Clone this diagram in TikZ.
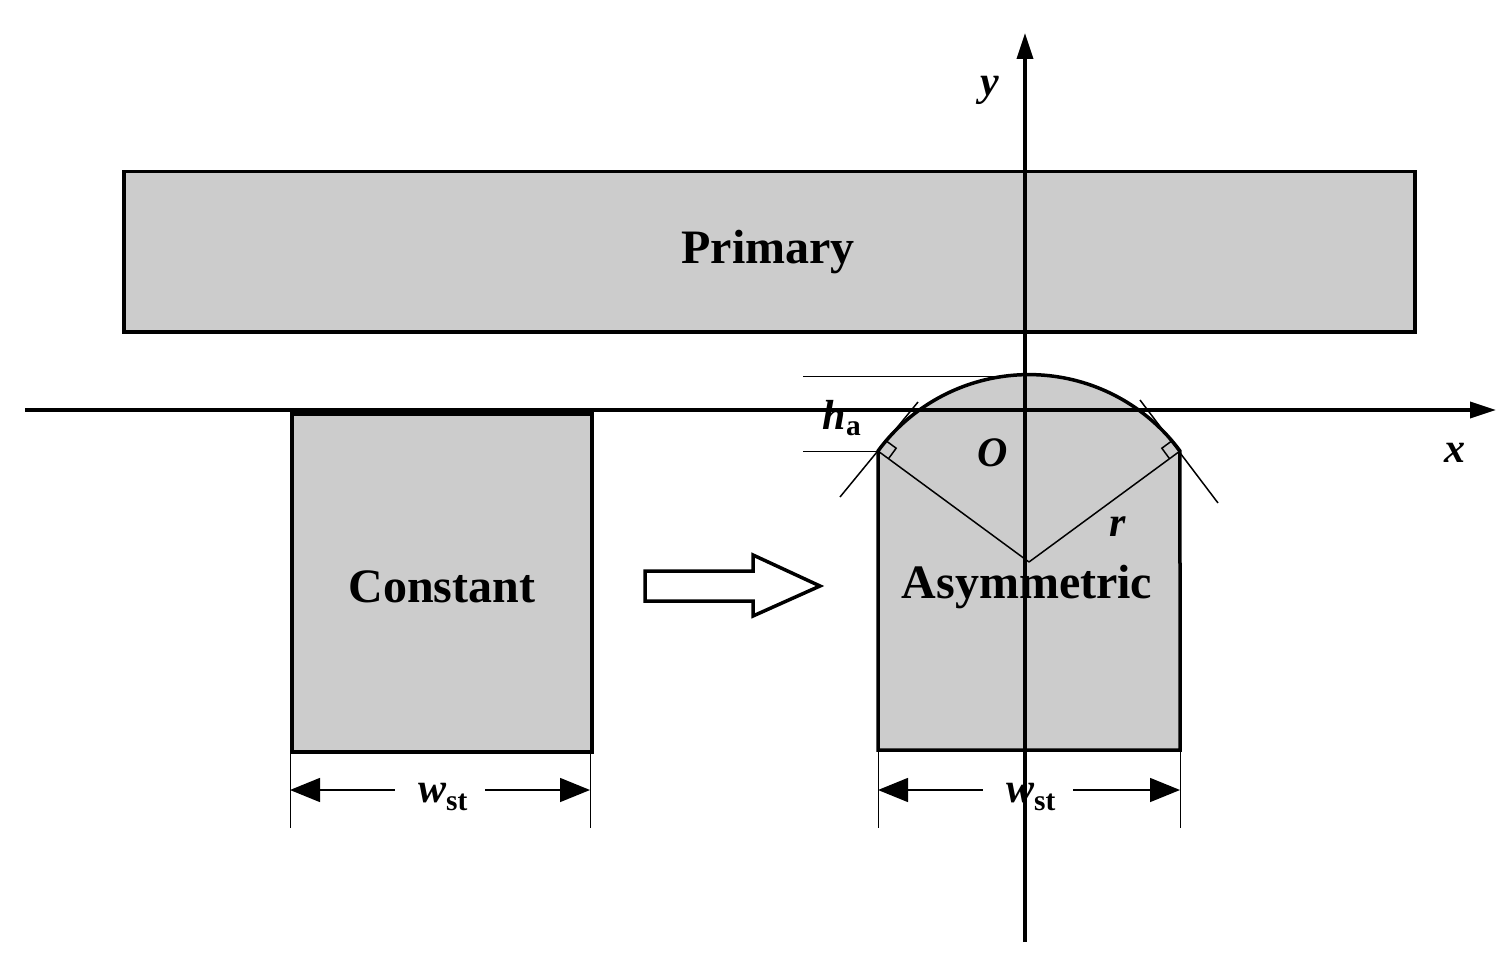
\documentclass[tikz,border=0pt]{standalone}
\usepackage{fontspec}
\setmainfont{Liberation Serif}
\usetikzlibrary{arrows.meta}
\begin{document}
\begin{tikzpicture}[x=1pt,y=-1pt,
  part/.style={fill=black!20,draw=black,line width=3.5pt},
  thin/.style={draw=black,line width=1.5pt},
  axis/.style={line width=3.5pt,-{Triangle[length=26pt,width=16pt]}},
  dimarr/.style={line width=1.5pt,{Triangle[length=30pt,width=24pt]}-},
  lbl/.style={font=\bfseries\fontsize{48}{48}\selectfont},
  var/.style={font=\bfseries\itshape\fontsize{42}{42}\selectfont}]
\useasboundingbox (0,0) rectangle (1504,968);
\node[part,minimum width=1291pt,minimum height=160pt,anchor=north west] (prim) at (122,170) {};
\node[lbl] (primt) at (768,252) {Primary};
\node[part,minimum width=300pt,minimum height=338pt,anchor=north west] (const) at (290,412) {};
\node[lbl] (constt) at (442,587) {Constant};
% asymmetric tooth
\coordinate (c) at (1029,562);
\coordinate (L) at (878,451);
\coordinate (R) at (1180,451);
\draw[part] (878,750) -- (L) arc[start angle=-143.68,end angle=-36.32,radius=187.4] -- (1180,750) -- cycle;
\node[lbl] (asymt) at (1027,587) {Asymmetric};
\draw[thin] (c) -- (L); \draw[thin] (c) -- (R);
\draw[thin] (840,497) -- (918,402);
\draw[thin] (1140,400) -- (1218,503);
\draw[thin] (L) ++(36.3:13) -- ++(-53.7:13) -- ++(216.3:13);
\draw[thin] (R) ++(143.7:13) -- ++(233.7:13) -- ++(-36.3:13);
% h_a
\draw[line width=1pt] (803,376) -- (1000,376);
\draw[line width=1pt] (803,451) -- (878,451);
\node[var] (ha) at (842,418) {h\textsubscript{\upshape a}};
% axes
\coordinate (xs) at (25,410); \coordinate (xe) at (1496,410);
\coordinate (ys) at (1025,942); \coordinate (ye) at (1025,33);
\draw[axis] (xs) -- (xe);
\draw[axis] (ys) -- (ye);
\node[var] (xl) at (1455,453) {x};
\node[var] (yl) at (990,90) {y};
\node[var] (ol) at (993,453) {O};
\node[var] (rl) at (1118,527) {r};
% hollow arrow
\draw[line width=3.5pt,fill=white,line join=miter] (645,571) -- (753,571) -- (753,555) -- (820,586) -- (753,616) -- (753,601) -- (645,601) -- cycle;
% dimensions
\foreach \xa/\xb/\n in {290/590/a,878/1180/b}{
  \draw[line width=0.6pt] (\xa,752) -- (\xa,828);
  \draw[line width=0.6pt] (\xb,752) -- (\xb,828);
  \coordinate (d1\n) at (\xa,790); \coordinate (d2\n) at (\xb,790);
}
\draw[dimarr] (d1a) -- (395,790);
\draw[dimarr] (d2a) -- (485,790);
\draw[dimarr] (d1b) -- (983,790);
\draw[dimarr] (d2b) -- (1073,790);
\node[var] (w1) at (443,797) {w\textsubscript{\upshape st}};
\node[var] (w2) at (1031,797) {w\textsubscript{\upshape st}};
\end{tikzpicture}
\end{document}
